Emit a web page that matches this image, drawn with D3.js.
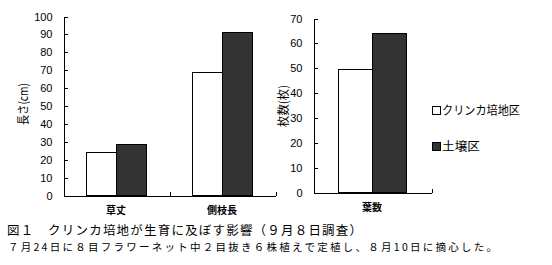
<!DOCTYPE html>
<html>
<head>
<meta charset="utf-8">
<script src="https://cdn.jsdelivr.net/npm/d3@7"></script>
<style>
  body { margin: 0; background: #fff; }
  text { font-family: "Noto Sans CJK JP", "Liberation Sans", sans-serif; fill: #000; }
  .tick text { font-family: "Liberation Sans", Arial, sans-serif; font-size: 11px; }
</style>
</head>
<body>
<div id="chart"></div>
<script>
// values
const series = ['クリンカ培地区', '土壌区'];
const lengthCats = ['草丈', '側枝長'];
const lengthClinker = [24.0, 68.7];
const lengthSoil = [28.4, 90.9];
const leafCats = ['葉数'];
const leafClinker = [49.5];
const leafSoil = [63.8];
const lengthTicks = [0, 10, 20, 30, 40, 50, 60, 70, 80, 90, 100];
const leafTicks = [0, 10, 20, 30, 40, 50, 60, 70];
const colours = ['#ffffff', '#333333'];

const width = 552, height = 265;

const svg = d3.select('#chart').append('svg')
    .attr('width', width)
    .attr('height', height);

function panel(opts) {
  const rows = opts.cats.map((c, i) => ({cat: c, values: [opts.a[i], opts.b[i]]}));

  const x0 = d3.scaleBand()
      .domain(opts.cats)
      .range([opts.left, opts.right]);

  const x1 = d3.scaleBand()
      .domain(series)
      .range([0, x0.bandwidth()])
      .paddingOuter(opts.pad);

  const y = d3.scaleLinear()
      .domain([0, opts.max])
      .range([opts.bottom, opts.top]);

  const g = svg.append('g')
      .attr('transform', 'translate(0.5,0.5)')
      .attr('shape-rendering', 'crispEdges');

  g.selectAll('g.cat')
      .data(rows)
    .enter().append('g')
      .attr('class', 'cat')
      .attr('transform', d => 'translate(' + Math.round(x0(d.cat)) + ',0)')
    .selectAll('rect')
      .data(d => d.values.map((v, i) => ({s: series[i], v: v, i: i})))
    .enter().append('rect')
      .attr('x', d => Math.round(x1(d.s)))
      .attr('y', d => Math.round(y(d.v)))
      .attr('width', Math.round(x1.bandwidth()))
      .attr('height', d => Math.round(y(0)) - Math.round(y(d.v)))
      .style('fill', d => colours[d.i])
      .style('stroke', '#000')
      .style('stroke-width', 1);

  // y axis, ticks pointing inward
  const yAxis = g.append('g')
      .attr('transform', 'translate(' + opts.left + ',0)')
      .call(d3.axisLeft(y)
        .tickValues(opts.ticks)
        .tickSize(-4)
        .tickSizeOuter(0)
        .tickPadding(11));
  yAxis.select('.domain').attr('stroke', '#000');
  yAxis.selectAll('.tick line').attr('stroke', '#000');

  // x axis with upward ticks at category boundaries
  const xb = d3.scaleLinear()
      .domain([0, opts.cats.length])
      .range([opts.left, opts.right]);
  const xAxis = g.append('g')
      .attr('transform', 'translate(0,' + opts.bottom + ')')
      .call(d3.axisBottom(xb)
        .tickValues(d3.range(1, opts.cats.length + 1))
        .tickSize(-4)
        .tickSizeOuter(0)
        .tickFormat(''));
  xAxis.select('.domain').attr('stroke', '#000');
  xAxis.selectAll('.tick line').attr('stroke', '#000');

  svg.selectAll(null)
      .data(opts.cats)
    .enter().append('text')
      .attr('x', d => x0(d) + x0.bandwidth() / 2)
      .attr('y', opts.bottom + opts.labelDy)
      .attr('text-anchor', 'middle')
      .style('font-size', '10px')
      .style('font-weight', 'bold')
      .text(d => d);

  svg.append('text')
      .attr('transform', 'translate(' + opts.titleX + ',' + opts.titleY + ') rotate(-90)')
      .attr('text-anchor', 'middle')
      .attr('textLength', 42)
      .attr('lengthAdjust', 'spacingAndGlyphs')
      .style('font-size', '12px')
      .text(opts.title);
}

panel({cats: lengthCats, a: lengthClinker, b: lengthSoil, max: 100, ticks: lengthTicks,
       left: 63, right: 275, top: 16, bottom: 195, pad: 0.767, labelDy: 19,
       title: '長さ(cm)', titleX: 28, titleY: 104});

panel({cats: leafCats, a: leafClinker, b: leafSoil, max: 70, ticks: leafTicks,
       left: 313, right: 431, top: 18, bottom: 192, pad: 0.735, labelDy: 19,
       title: '枚数(枚)', titleX: 288, titleY: 106});

// legend
const legend = svg.append('g')
    .attr('class', 'legend')
    .attr('shape-rendering', 'crispEdges');

legend.selectAll('rect')
    .data(series)
  .enter().append('rect')
    .attr('x', 432.5)
    .attr('y', (d, i) => 106.5 + i * 36)
    .attr('width', 8)
    .attr('height', 8)
    .style('fill', (d, i) => colours[i])
    .style('stroke', '#000');

legend.selectAll('text')
    .data(series)
  .enter().append('text')
    .attr('x', 442)
    .attr('y', (d, i) => 115 + i * 36)
    .attr('textLength', (d, i) => i === 0 ? 78 : 38)
    .attr('lengthAdjust', 'spacingAndGlyphs')
    .style('font-size', '12px')
    .text(d => d);

// caption
svg.append('text')
    .attr('x', 7)
    .attr('y', 234.5)
    .attr('textLength', 355)
    .attr('lengthAdjust', 'spacing')
    .style('font-size', '12.5px')
    .text('図１　クリンカ培地が生育に及ぼす影響（９月８日調査）');

svg.append('text')
    .attr('x', 8)
    .attr('y', 250.5)
    .attr('textLength', 489)
    .attr('lengthAdjust', 'spacing')
    .style('font-size', '10.5px')
    .text('７月24日に８目フラワーネット中２目抜き６株植えで定植し、８月10日に摘心した。');
</script>
</body>
</html>
